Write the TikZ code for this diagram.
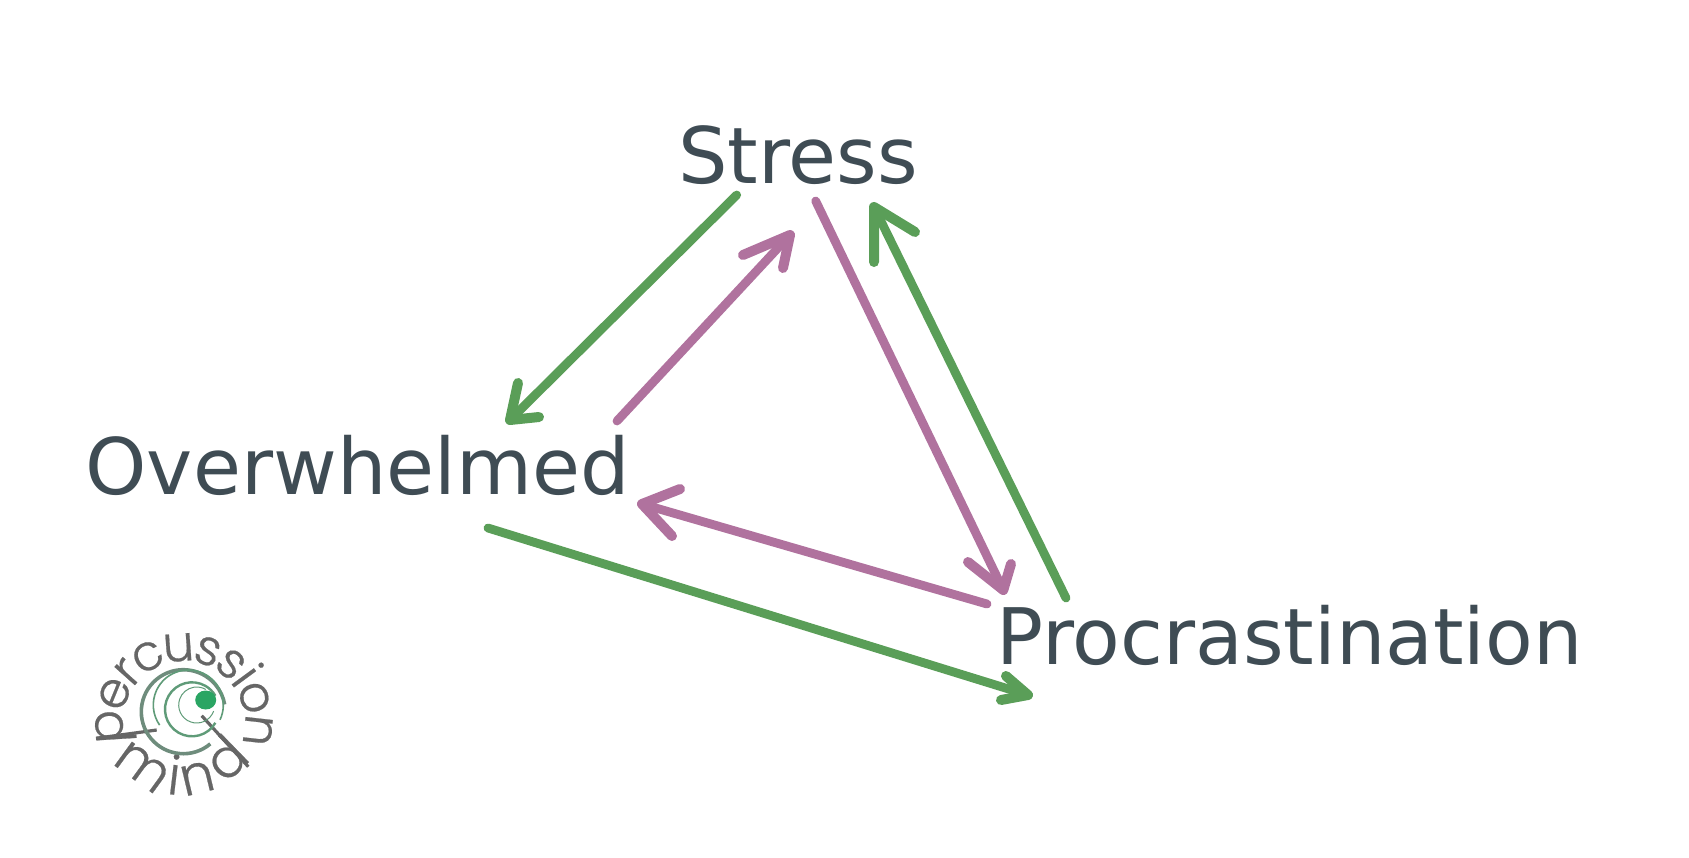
\documentclass[tikz,border=0pt]{standalone}
\usepackage{fontspec}
\setmainfont{DejaVu Sans}
\newfontfamily\logofont[FakeBold=0.4]{Poppins Light}
\usetikzlibrary{decorations.text}
\definecolor{inkc}{HTML}{3F4C54}
\definecolor{greenc}{HTML}{5A9E58}
\definecolor{purplec}{HTML}{B0729E}
\definecolor{logogrey}{HTML}{666666}
\definecolor{ringa}{HTML}{6E8C7C}
\definecolor{ringb}{HTML}{5F9B78}
\definecolor{dotc}{HTML}{2AA563}
\tikzset{
  lbl/.style={font=\fontsize{78}{90}\selectfont, text=inkc, anchor=base, inner sep=0pt},
  garrow/.style={draw=greenc, line width=8.8pt, line cap=round, line join=round},
  parrow/.style={draw=purplec, line width=8.8pt, line cap=round, line join=round},
  barb/.style={line width=10pt},
  logotext/.style={decorate},
}
\begin{document}
\begin{tikzpicture}[x=1pt,y=-1pt]
\useasboundingbox (0,0) rectangle (1689,857);
\node[lbl] (stress) at (798.3,183.3) {Stress};
\node[lbl] (over) at (357.6,494) {Overwhelmed};
\node[lbl] (proc) at (1289.7,664) {Procrastination};

% green: stress -> overwhelmed
\coordinate (g1t) at ([shift={(152.4,-74)}]over.base);
\draw[garrow] ([shift={(-61.6,11.7)}]stress.base) -- (g1t);
\coordinate (g1a) at (518,383); \coordinate (g1b) at (539,417);
\draw[garrow,barb] (g1a) -- (g1t) -- (g1b);
% purple: overwhelmed -> stress
\coordinate (p1t) at ([shift={(-8.3,51.7)}]stress.base);
\draw[parrow] ([shift={(259.4,-73)}]over.base) -- (p1t);
\coordinate (p1a) at (743,255); \coordinate (p1b) at (783,268);
\draw[parrow,barb] (p1a) -- (p1t) -- (p1b);
% purple: stress -> procrastination
\coordinate (p2t) at ([shift={(-286.4,-74)}]proc.base);
\draw[parrow] ([shift={(17.4,17.7)}]stress.base) -- (p2t);
\coordinate (p2a) at (968,562); \coordinate (p2b) at (1011,564);
\draw[parrow,barb] (p2a) -- (p2t) -- (p2b);
% green: procrastination -> stress
\coordinate (g2t) at ([shift={(75.7,23.7)}]stress.base);
\draw[garrow] ([shift={(-223.7,-66)}]proc.base) -- (g2t);
\coordinate (g2a) at (915,232); \coordinate (g2b) at (874,262);
\draw[garrow,barb] (g2a) -- (g2t) -- (g2b);
% purple: procrastination -> overwhelmed
\coordinate (p3t) at ([shift={(284.4,10)}]over.base);
\draw[parrow] ([shift={(-302.7,-60)}]proc.base) -- (p3t);
\coordinate (p3a) at (680,489); \coordinate (p3b) at (672,536);
\draw[parrow,barb] (p3a) -- (p3t) -- (p3b);
% green: overwhelmed -> procrastination
\coordinate (g3t) at ([shift={(-261.7,31)}]proc.base);
\draw[garrow] ([shift={(130.4,34)}]over.base) -- (g3t);
\coordinate (g3a) at (1006,676); \coordinate (g3b) at (1001,700);
\draw[garrow,barb] (g3a) -- (g3t) -- (g3b);

% logo
\begin{scope}[shift={(181.7,713)},y=1pt]
  \path[logotext, decoration={text along path, text align=center, raise=-11pt,
     text={|\logofont\fontsize{50}{50}\selectfont\color{logogrey}|percussion}}]
     ([shift={(2,-9)}]193:72) arc[start angle=193,end angle=-15,radius=72];
  \path[logotext, decoration={text along path, text align=center, raise=-16pt,
     text={|\logofont\fontsize{54}{54}\selectfont\color{logogrey}|mind}}]
     (212:66) arc[start angle=212,end angle=328,radius=66];
  % long strokes of p and d
  \draw[logogrey, line width=3.2pt] (-85.7,-25.3) -- (-25,-17);
  \draw[logogrey, line width=3.2pt] (20,-2.7) -- (66.6,-53.7);
  % rings
  \draw[ringa, line width=3.6pt] ([shift={(1.6,1.3)}]-50:42) arc[start angle=-50,end angle=-350,radius=42];
  \draw[ringb, line width=1.6pt] ([shift={(6.6,8)}]-25:35) arc[start angle=-25,end angle=215,radius=35];
  \draw[ringb, line width=2.4pt] ([shift={(10.3,3.7)}]-30:27) arc[start angle=-30,end angle=-330,radius=27];
  \draw[ringb, line width=1pt] ([shift={(15,8)}]-20:18) arc[start angle=-20,end angle=-300,radius=18];
  \fill[dotc] (24,13) ellipse[x radius=10.5,y radius=9.5];
\end{scope}
\end{tikzpicture}
\end{document}
